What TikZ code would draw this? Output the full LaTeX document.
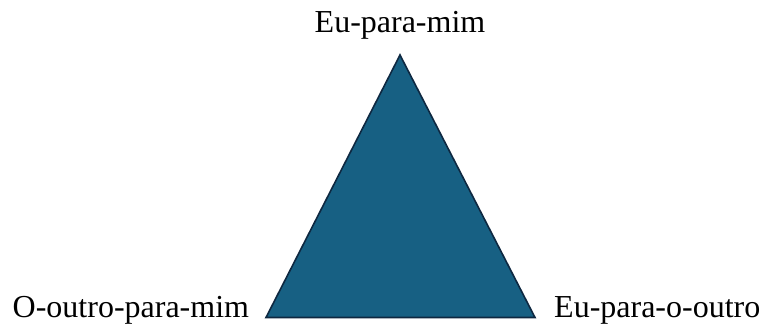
\documentclass[tikz,border=0pt]{standalone}
\usepackage{fontspec}
\setmainfont{Liberation Serif}
\definecolor{trifill}{HTML}{176083}
\definecolor{triedge}{HTML}{0E2841}
\tikzset{lbl/.style={inner sep=0pt, font=\fontsize{32}{38}\selectfont, text=black}}
\begin{document}
\begin{tikzpicture}[x=1pt,y=-1pt]
\useasboundingbox (0,0) rectangle (761,324);
\coordinate (apex) at (400,55);
\coordinate (bl) at (266,317.5);
\coordinate (br) at (535,317.5);
\draw[fill=trifill, draw=triedge, line width=1.6pt, line join=miter] (apex) -- (bl) -- (br) -- cycle;
\node[lbl, anchor=base] (top) at (400,32) {Eu-para-mim};
\node[lbl, anchor=base west] (left) at (12.5,317) {O-outro-para-mim};
\node[lbl, anchor=base west] (right) at (554,317) {Eu-para-o-outro};
\end{tikzpicture}
\end{document}
